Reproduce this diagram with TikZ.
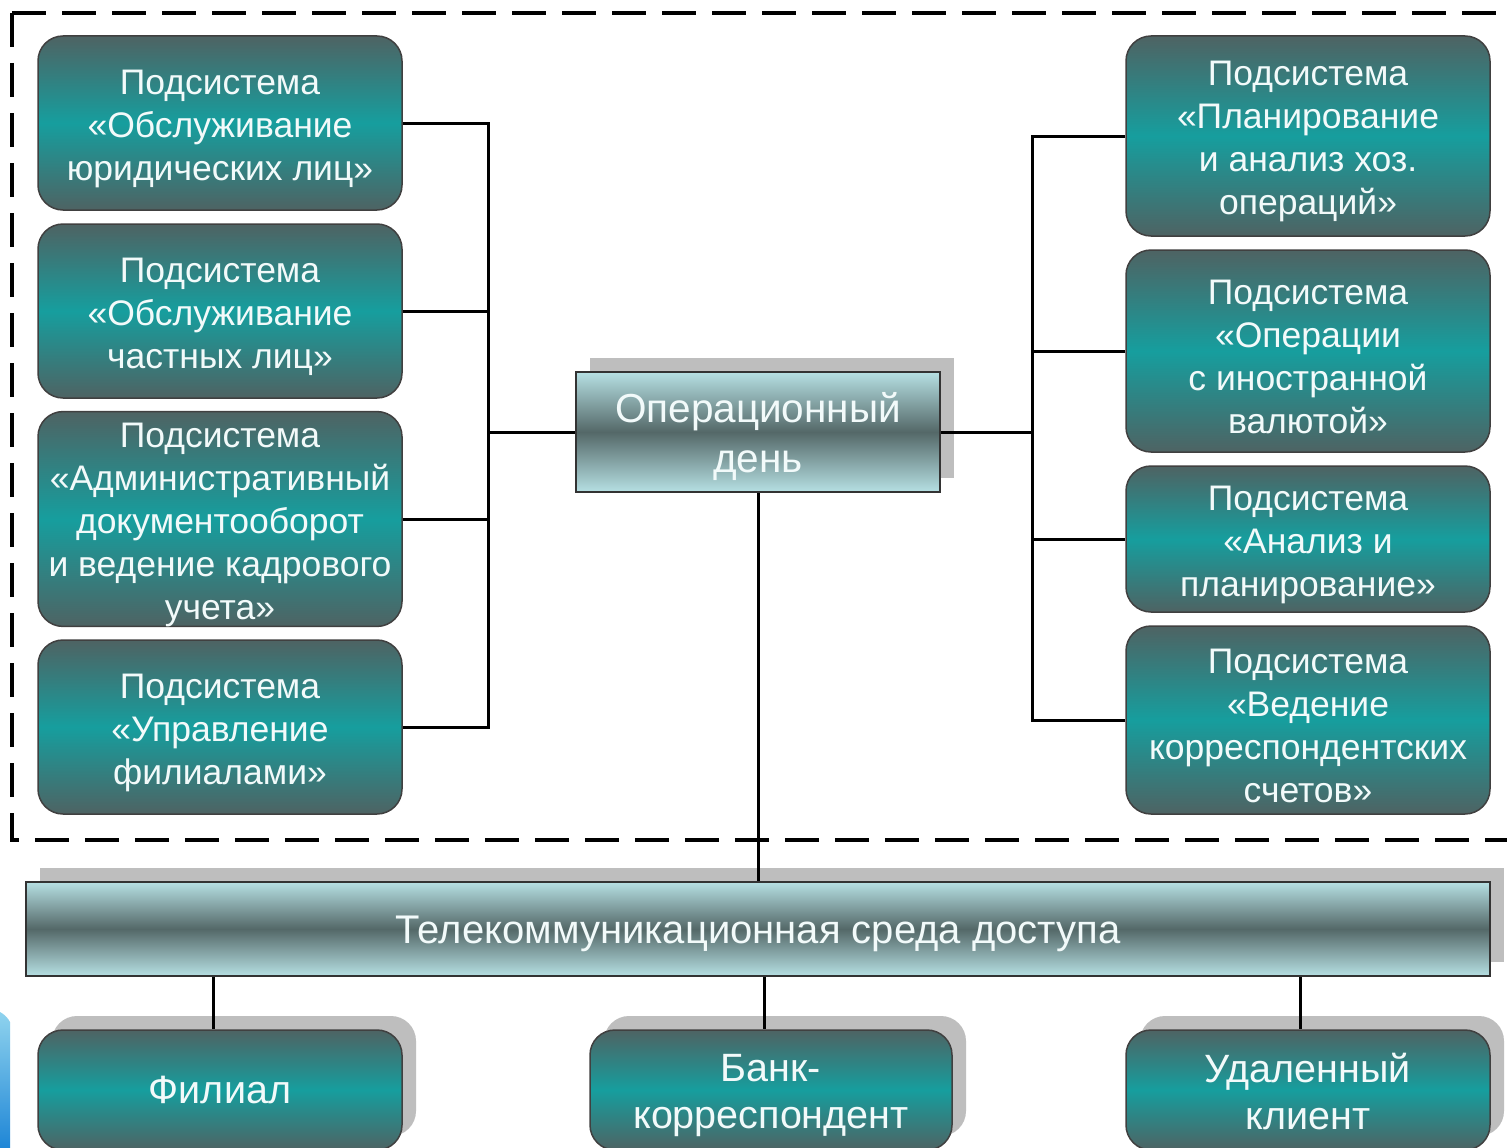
\documentclass[tikz,border=0pt]{standalone}
\usepackage{fontspec}
\setmainfont{Liberation Sans}
\usetikzlibrary{shadows,calc}
\definecolor{tealmid}{HTML}{169E9E}
\definecolor{tealdark}{HTML}{4E6363}
\definecolor{lightcyan}{HTML}{B6E0E3}
\definecolor{slate}{HTML}{546868}
\definecolor{shadowgray}{HTML}{BEBEBE}
\definecolor{txt}{HTML}{F2FAFA}
\definecolor{bluedark}{HTML}{1F86D6}
\definecolor{bluelight}{HTML}{8FD3EE}
\newcommand\firstrule[1]{\rule{0pt}{#1}}
\tikzset{
  tealbox/.style={rectangle, rounded corners=25pt, draw=black!75, line width=1.5pt,
    top color=tealdark, bottom color=tealdark, middle color=tealmid,
    text=txt, align=center, font=\fontsize{35.5}{43}\selectfont,
    minimum width=364pt, inner sep=0pt},
  lightbox/.style={rectangle, draw=black!80, line width=2pt,
    top color=lightcyan, bottom color=lightcyan, middle color=slate,
    text=txt, align=center, inner sep=0pt},
  grayshadow/.style={drop shadow={shadow xshift=14pt, shadow yshift=14pt, fill=shadowgray, opacity=1}},
  bus/.style={draw=black, line width=3pt},
  frame/.style={draw=black, line width=4pt, dash pattern=on 34pt off 16pt}
}
\begin{document}
\begin{tikzpicture}[x=1pt, y=-1pt]
\useasboundingbox (0,0) rectangle (1507,1148);
\clip (0,0) rectangle (1507,1148);
\fill[white] (0,0) rectangle (1507,1148);

% blue template strip
\shade[top color=bluelight, bottom color=bluedark] (0,1012) .. controls (4,1014) and (8,1018) .. (10,1022) -- (10,1148) -- (0,1148) -- cycle;

% dashed frame
\draw[frame] (12,13) -- (1530,13);
\draw[frame] (12,13) -- (12,840) -- (1530,840);

% left boxes
\node[tealbox, minimum height=174pt] (l1) at (220,123) {\firstrule{35.5pt}Подсистема\\«Обслуживание\\юридических лиц»};
\node[tealbox, minimum height=174pt] (l2) at (220,311) {\firstrule{35.5pt}Подсистема\\«Обслуживание\\частных лиц»};
\node[tealbox, minimum height=214pt] (l3) at (220,519) {\firstrule{35.5pt}Подсистема\\«Административный\\документооборот\\и ведение кадрового\\учета»};
\node[tealbox, minimum height=174pt] (l4) at (220,727) {\firstrule{35.5pt}Подсистема\\«Управление\\филиалами»};

% right boxes
\node[tealbox, minimum height=200pt] (r1) at (1308,136) {\firstrule{36pt}Подсистема\\«Планирование\\и анализ хоз.\\операций»};
\node[tealbox, minimum height=202pt] (r2) at (1308,351) {\firstrule{36pt}Подсистема\\«Операции\\с иностранной\\валютой»};
\node[tealbox, minimum height=146pt] (r3) at (1308,539) {\firstrule{36pt}Подсистема\\«Анализ и\\планирование»};
\node[tealbox, minimum height=188pt] (r4) at (1308,720) {\firstrule{36pt}Подсистема\\«Ведение\\корреспондентских\\счетов»};

% centre box
\node[lightbox, grayshadow, minimum width=364pt, minimum height=120pt,
      font=\fontsize{40.5}{50}\selectfont] (op) at (758,432) {\firstrule{38.5pt}Операционный\\день};

% telecom box
\node[lightbox, grayshadow, minimum width=1464pt, minimum height=94pt,
      font=\fontsize{40}{47}\selectfont] (tel) at (758,929) {\firstrule{38pt}Телекоммуникационная среда доступа};

% bottom boxes
\node[tealbox, grayshadow, minimum height=120pt, font=\fontsize{39.5}{47}\selectfont] (fil) at (220,1090) {Филиал};
\node[tealbox, grayshadow, minimum width=362pt, minimum height=120pt, font=\fontsize{39.5}{47}\selectfont] (bank) at (771,1090) {\firstrule{39pt}Банк-\\корреспондент};
\node[tealbox, grayshadow, minimum height=120pt, font=\fontsize{39.5}{47}\selectfont] (rem) at (1308,1090) {\firstrule{33pt}Удаленный\\клиент};

% connectors left
\coordinate (lb) at (488,432);
\draw[bus] (l1.east) -| (lb) -- (op.west);
\draw[bus] (l4.east) -| (lb);
\draw[bus] (l2.east) -- (l2.east -| lb);
\draw[bus] (l3.east) -- (l3.east -| lb);

% connectors right
\coordinate (rb) at (1032,432);
\draw[bus] (r1.west) -| (rb) -- (op.east);
\draw[bus] (r4.west) -| (rb);
\draw[bus] (r2.west) -- (r2.west -| rb);
\draw[bus] (r3.west) -- (r3.west -| rb);

% vertical to telecom
\draw[bus] (op.south) -- (op.south |- tel.north);

% telecom to bottom boxes
\coordinate (fc) at ($(fil.north)+(-7,0)$);
\coordinate (bc) at ($(bank.north)+(-7,0)$);
\coordinate (rc) at ($(rem.north)+(-8,0)$);
\draw[bus] (tel.south -| fc) -- (fc);
\draw[bus] (tel.south -| bc) -- (bc);
\draw[bus] (tel.south -| rc) -- (rc);
\end{tikzpicture}
\end{document}
